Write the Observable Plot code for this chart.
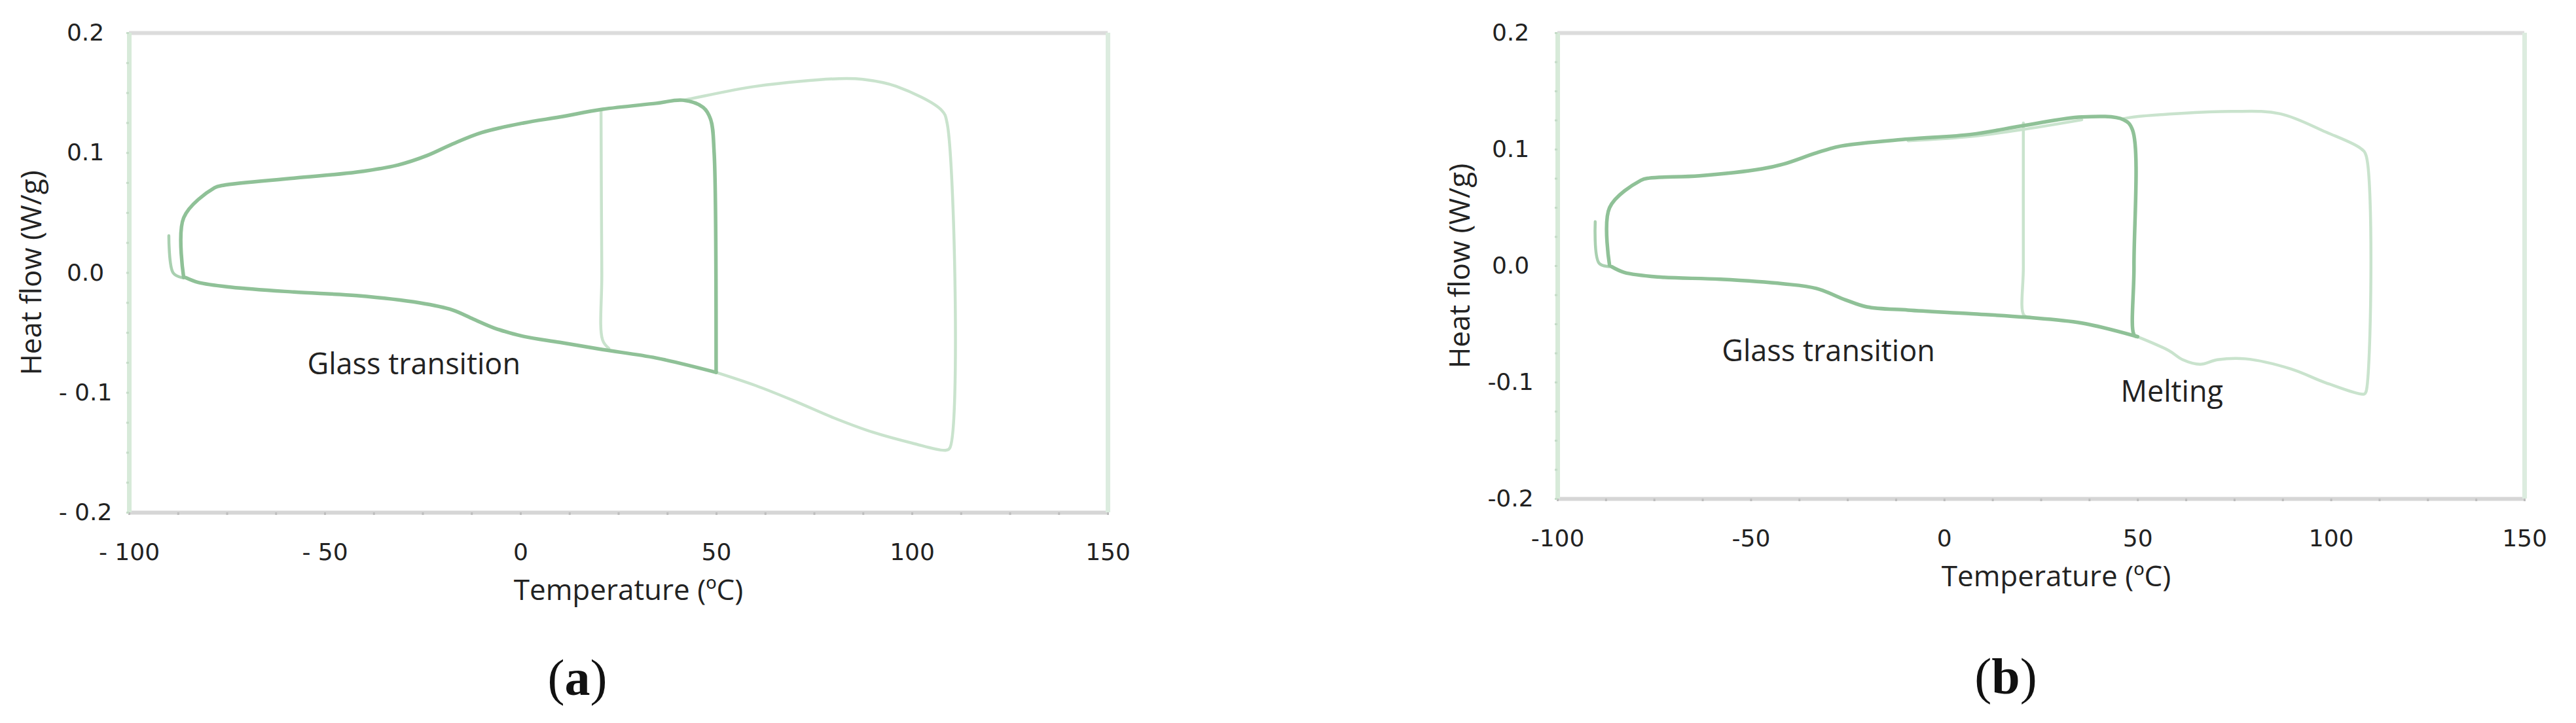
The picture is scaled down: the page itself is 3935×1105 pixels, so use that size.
<!DOCTYPE html>
<html>
<head>
<meta charset="utf-8">
<script src="https://cdn.jsdelivr.net/npm/d3@7"></script>
<script src="https://cdn.jsdelivr.net/npm/@observablehq/plot@0.6"></script>
<style>
  html, body { margin: 0; padding: 0; background: #fff; }
  body { width: 3935px; height: 1105px; position: relative; overflow: hidden; }
  .panel { position: absolute; top: 0; }
  .cap { position: absolute; font-family: "Liberation Serif", "DejaVu Serif", serif; font-size: 78px; color: #111; transform: translate(-50%, -50%); white-space: nowrap; }
</style>
</head>
<body>
<div id="pa" class="panel" style="left:0px"></div>
<div id="pb" class="panel" style="left:1968px"></div>
<div class="cap" style="left:882px; top:1036px">(<b>a</b>)</div>
<div class="cap" style="left:3064px; top:1034px">(<b>b</b>)</div>
<script>
// ---------- data (temperature °C, heat flow W/g) ----------
const xMajorTicks = [-100, -50, 0, 50, 100, 150];
const yMajorTicks = [-0.2, -0.1, 0.0, 0.1, 0.2];
const xTitle = "Temperature (ºC)";
const yTitle = "Heat flow (W/g)";

// Panel (a)
const aLowerMain = [[-85.6,-0.004],[-82.4,-0.008],[-73.9,-0.012],[-57.9,-0.016],[-41.9,-0.019],[-25.9,-0.025],[-17.4,-0.031],[-12.1,-0.0386],[-6.8,-0.046],[0.7,-0.053],[10,-0.058],[20.9,-0.064],[34.6,-0.071],[49.9,-0.083]];
const aUpperMain = [[-86.1,-0.004],[-86.1,0.046],[-78.2,0.071],[-76,0.073],[-57.9,0.079],[-41.9,0.084],[-31.3,0.090],[-23.8,0.098],[-17.4,0.1075],[-10,0.117],[0.7,0.125],[10,0.130],[20.9,0.1364],[34.6,0.1414],[41.4,0.144],[46.6,0.138],[48.5,0.128],[49.4,0.10],[49.9,-0.077],[49.9,-0.083]];
const aTail = [[-89.9,0.031],[-88.8,0.0],[-86.5,-0.004]];
const aLoop20 = [[20.5,0.136],[20.7,0.0],[20.9,-0.056],[22.5,-0.063]];
const aLoop110 = [[41.4,0.144],[43.1,0.145],[60.1,0.1556],[81.4,0.162],[87.4,0.1614],[95.9,0.1556],[107.5,0.1356],[108.9,0.125],[109.6,-0.146],[108.5,-0.148],[100,-0.142],[90,-0.133],[80,-0.121],[70,-0.107],[60,-0.094],[49.9,-0.083]];

// Panel (b)
const bLowerMain = [[-86.0,-0.0007],[-82.8,-0.0055],[-74.2,-0.0094],[-58.0,-0.0114],[-41.7,-0.0153],[-33.1,-0.0193],[-25.6,-0.0291],[-20.1,-0.0351],[-9.4,-0.0379],[6.9,-0.041],[20.9,-0.044],[35.5,-0.049],[49.9,-0.0607]];
const bUpperMain = [[-86.6,0.0006],[-86.6,0.05],[-78.5,0.0735],[-76.3,0.0755],[-63.4,0.0774],[-47.2,0.0834],[-41.7,0.0874],[-33.1,0.0971],[-26.7,0.103],[-9.4,0.109],[6.9,0.113],[20.9,0.1208],[35.5,0.128],[46.3,0.1256],[48.6,0.117],[49.0,0.0],[49.0,-0.059],[49.9,-0.0607]];
const bUpperFaint = [[-9.4,0.1075],[6.9,0.1112],[20.9,0.1175],[35.5,0.1255]];
const bTail = [[-90.3,0.038],[-89.3,0.0024],[-86.0,-0.0007]];
const bLoop20 = [[20.4,0.1228],[20.4,0.0],[20.5,-0.042],[22,-0.044]];
const bLoop110 = [[46.3,0.1265],[49,0.128],[74.2,0.1327],[86.8,0.1307],[98.6,0.115],[107.6,0.101],[109,0.095],[109,-0.108],[108.5,-0.110],[98.6,-0.1003],[89.6,-0.0884],[77.8,-0.0797],[70.6,-0.0805],[66.1,-0.0844],[61.6,-0.0805],[58.0,-0.0726],[49.9,-0.0607]];

const aNotes = [{x:-27.3, y:-0.0767, t:"Glass transition"}];
const bNotes = [{x:-30.0, y:-0.0736, t:"Glass transition"}, {x:58.8, y:-0.1084, t:"Melting"}];

// ---------- drawing ----------
const dark = "#8fc197", mid = "#a9d0b0", light = "#c9e3cd";
const textFont = "Open Sans";
const tickFont = "DejaVu Sans";

function panel({width, height, mL, mR, mT, mB, series, notes, fmtX, fmtY, yLabelPad, xTitleDx}) {
  const lines = series.map(([data, stroke, sw]) =>
    Plot.line(data, {x: d => d[0], y: d => d[1], stroke, strokeWidth: sw, curve: "catmull-rom", strokeLinejoin: "round", strokeLinecap: "round"}));
  return Plot.plot({
    width, height,
    marginLeft: mL, marginRight: mR, marginTop: mT, marginBottom: mB,
    x: {domain: [-100, 150]},
    y: {domain: [-0.2, 0.2]},
    axis: null,
    style: "background:#fff; max-width:none; overflow:visible; color:#222;",
    marks: [
      // frame
      Plot.ruleY([0.2], {stroke: "#dcdcdc", strokeWidth: 6}),
      Plot.ruleY([-0.2], {stroke: "#d6d6d6", strokeWidth: 6}),
      Plot.ruleX([-100], {stroke: "#d7ead9", strokeWidth: 7}),
      Plot.ruleX([150], {stroke: "#dcecdf", strokeWidth: 7}),
      // minor ticks
      Plot.axisX({ticks: d3.range(-100, 150.01, 12.5), tickSize: 4, tickFormat: () => "", stroke: "#bdbdbd", strokeWidth: 3, label: null}),
      Plot.axisY({ticks: d3.range(-0.2, 0.2001, 0.025), tickSize: 4, tickFormat: () => "", stroke: "#c5dcc8", strokeWidth: 3, label: null}),
      // tick labels
      Plot.axisX({ticks: xMajorTicks, tickSize: 0, tickPadding: 47, tickFormat: fmtX, fontSize: 36, fontFamily: tickFont, fill: "#222", label: null}),
      Plot.axisY({ticks: yMajorTicks, tickSize: 0, tickPadding: yLabelPad, textAnchor: "middle", tickFormat: fmtY, fontSize: 36, fontFamily: tickFont, fill: "#222", label: null}),
      // curves
      ...lines,
      // annotations
      Plot.text(notes, {x: "x", y: "y", text: "t", fontSize: 45, fontFamily: textFont, fill: "#222"}),
      // axis titles
      Plot.text([yTitle], {text: d => d, frameAnchor: "left", dx: -149, rotate: -90, textAnchor: "middle", lineAnchor: "middle", fontSize: 44, fontFamily: textFont, fill: "#222"}),
      Plot.text([xTitle], {text: d => d, frameAnchor: "bottom", dy: 119, dx: xTitleDx, textAnchor: "middle", lineAnchor: "middle", fontSize: 44, fontFamily: textFont, fill: "#222"})
    ]
  });
}

const fmtXa = d => d < 0 ? "- " + Math.abs(d) : String(d);
const fmtYa = d => Math.abs(d) < 1e-9 ? "0.0" : (d < 0 ? "- " + Math.abs(d).toFixed(1) : d.toFixed(1));
const fmtXb = d => d < 0 ? "-" + Math.abs(d) : String(d);
const fmtYb = d => Math.abs(d) < 1e-9 ? "0.0" : (d < 0 ? "-" + Math.abs(d).toFixed(1) : d.toFixed(1));

document.getElementById("pa").append(panel({
  width: 1968, height: 960, mL: 197, mR: 276, mT: 50, mB: 177,
  series: [[aLoop110, light, 4.5], [aLoop20, light, 4.5], [aTail, mid, 4.5], [aLowerMain, dark, 5.5], [aUpperMain, dark, 5.5]],
  notes: aNotes, fmtX: fmtXa, fmtY: fmtYa, yLabelPad: 67, xTitleDx: 15
}));
document.getElementById("pb").append(panel({
  width: 1967, height: 960, mL: 411, mR: 79, mT: 50, mB: 198,
  series: [[bLoop110, light, 4.5], [bLoop20, light, 4.5], [bUpperFaint, light, 4.5], [bTail, mid, 4.5], [bLowerMain, dark, 5.5], [bUpperMain, dark, 5.5]],
  notes: bNotes, fmtX: fmtXb, fmtY: fmtYb, yLabelPad: 72, xTitleDx: 23
}));
</script>
</body>
</html>
